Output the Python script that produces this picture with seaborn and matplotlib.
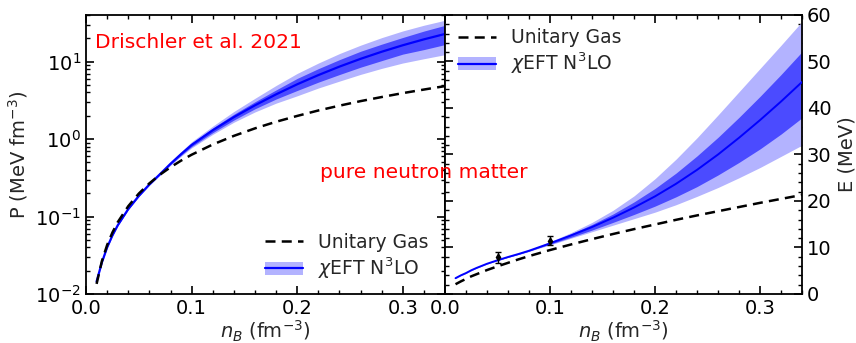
import numpy as np
import pandas as pd
import matplotlib
matplotlib.use("Agg")
import matplotlib.pyplot as plt
import seaborn as sns
from matplotlib.patches import Patch
from matplotlib.lines import Line2D
from matplotlib.ticker import MultipleLocator, LogLocator, NullFormatter

# ---------------- data ----------------
n_B = [0.010, 0.015, 0.020, 0.025, 0.030, 0.040, 0.050, 0.060, 0.070, 0.080,
       0.090, 0.100, 0.120, 0.140, 0.160, 0.180, 0.200, 0.220, 0.240, 0.260,
       0.280, 0.300, 0.320, 0.340]

# Pressure (MeV fm^-3)
P_unitary = [0.0135, 0.0265, 0.0429, 0.0622, 0.0844, 0.136, 0.198, 0.268, 0.347, 0.433,
             0.527, 0.628, 0.851, 1.10, 1.375, 1.673, 1.99, 2.34, 2.70, 3.09,
             3.49, 3.92, 4.36, 4.83]
P_chiEFT = [0.0145, 0.0255, 0.040, 0.057, 0.077, 0.125, 0.185, 0.26, 0.352, 0.480,
            0.640, 0.84, 1.30, 1.92, 2.73, 3.78, 5.10, 6.70, 8.62, 10.86,
            13.41, 16.27, 19.39, 22.77]
P_light_lo = [0.0143, 0.0251, 0.0393, 0.056, 0.0755, 0.122, 0.180, 0.252, 0.340, 0.458,
              0.600, 0.77, 1.15, 1.65, 2.24, 2.91, 3.62, 4.56, 5.60, 6.84,
              8.18, 9.6, 10.9, 12.3]
P_light_hi = [0.0147, 0.0259, 0.0407, 0.058, 0.0785, 0.128, 0.190, 0.268, 0.364, 0.505,
              0.685, 0.925, 1.47, 2.27, 3.36, 4.92, 7.04, 9.58, 12.7, 16.3,
              20.4, 24.9, 29.5, 34.2]
P_dark_lo = [0.0144, 0.0253, 0.0396, 0.0565, 0.076, 0.1235, 0.182, 0.256, 0.346, 0.468,
             0.617, 0.80, 1.21, 1.76, 2.46, 3.29, 4.24, 5.43, 6.81, 8.47,
             10.3, 12.5, 14.3, 16.6]
P_dark_hi = [0.0146, 0.0257, 0.0404, 0.0575, 0.078, 0.1265, 0.188, 0.264, 0.358, 0.492,
             0.663, 0.88, 1.39, 2.09, 3.03, 4.31, 6.07, 8.11, 10.6, 13.6,
             16.8, 20.5, 24.8, 29.4]

# Energy per particle (MeV)
E_unitary = [2.1, 2.7, 3.25, 3.8, 4.25, 5.15, 5.95, 6.7, 7.45, 8.15,
             8.8, 9.45, 10.65, 11.8, 12.9, 13.95, 14.95, 15.95, 16.9, 17.8,
             18.7, 19.6, 20.45, 21.3]
E_chiEFT = [3.4, 4.0, 4.5, 5.1, 5.6, 6.5, 7.25, 7.95, 8.6, 9.3,
            10.1, 10.9, 12.6, 14.4, 16.4, 18.6, 21.0, 23.7, 26.7, 30.0,
            33.6, 37.4, 41.4, 45.6]
E_light_lo = [3.35, 3.95, 4.45, 5.05, 5.55, 6.45, 7.18, 7.86, 8.48, 9.14,
              9.88, 10.55, 12.0, 13.4, 14.8, 16.2, 17.6, 19.2, 21.0, 22.9,
              25.0, 27.2, 29.6, 32.0]
E_light_hi = [3.45, 4.05, 4.55, 5.15, 5.65, 6.55, 7.32, 8.04, 8.72, 9.46,
              10.32, 11.25, 13.2, 15.4, 18.0, 21.1, 24.8, 29.0, 33.6, 38.5,
              43.5, 48.5, 53.5, 58.6]
E_dark_lo = [3.38, 3.98, 4.48, 5.08, 5.58, 6.48, 7.22, 7.9, 8.54, 9.22,
             9.98, 10.7, 12.2, 13.75, 15.4, 17.1, 18.9, 20.9, 23.1, 25.6,
             28.3, 31.2, 34.4, 37.9]
E_dark_hi = [3.42, 4.02, 4.52, 5.12, 5.62, 6.52, 7.28, 8.0, 8.66, 9.38,
             10.22, 11.1, 12.95, 14.95, 17.2, 19.8, 22.7, 26.0, 29.7, 33.7,
             38.0, 42.5, 47.2, 52.1]

# data points with error bars
pts_n = [0.05, 0.10]
pts_E = [7.85, 11.5]
pts_err = [1.25, 1.0]

# ---------------- style ----------------
sns.set_theme(style="ticks")
plt.rcParams["font.family"] = ["DejaVu Sans"]
plt.rcParams["mathtext.fontset"] = "dejavusans"
plt.rcParams["axes.linewidth"] = 1.3
plt.rcParams["axes.edgecolor"] = "black"
plt.rcParams["xtick.color"] = "black"
plt.rcParams["ytick.color"] = "black"

FS = 14
FS_TXT = 14.6
FS_LEG = 13.5
blue = "#0000ff"
c_light = "#b3b3ff"
c_dark = "#4b4bff"

df = pd.DataFrame({"n": n_B, "P_u": P_unitary, "P_c": P_chiEFT,
                   "E_u": E_unitary, "E_c": E_chiEFT})

fig = plt.figure(figsize=(8.56, 3.43), dpi=100)
ax1 = fig.add_axes([0.1005, 0.1429, 0.4194, 0.8134])
ax2 = fig.add_axes([0.5199, 0.1429, 0.4171, 0.8134])

# ---------------- left: pressure ----------------
ax1.fill_between(df["n"], P_light_lo, P_light_hi, color=c_light, lw=0, zorder=1)
ax1.fill_between(df["n"], P_dark_lo, P_dark_hi, color=c_dark, lw=0, zorder=2)
sns.lineplot(data=df, x="n", y="P_c", ax=ax1, color=blue, lw=1.6, zorder=3,
             estimator=None, sort=False)
sns.lineplot(data=df, x="n", y="P_u", ax=ax1, color="black", lw=1.8, zorder=4,
             estimator=None, sort=False, linestyle=(0, (4, 2.5)))
ax1.set_yscale("log")
ax1.set_xlim(0, 0.34)
ax1.set_ylim(0.01, 40)
ax1.set_xlabel(r"$n_B$ (fm$^{-3}$)", fontsize=FS, labelpad=1.0)
ax1.set_ylabel(r"P (MeV fm$^{-3}$)", fontsize=FS)
ax1.xaxis.set_major_locator(MultipleLocator(0.1))
ax1.xaxis.set_minor_locator(MultipleLocator(0.02))
ax1.yaxis.set_major_locator(LogLocator(base=10, numticks=10))
ax1.yaxis.set_minor_locator(LogLocator(base=10, subs=np.arange(2, 10), numticks=20))
ax1.yaxis.set_minor_formatter(NullFormatter())
ax1.tick_params(which="both", direction="in", top=True, right=True,
                labelsize=FS, colors="black")
ax1.tick_params(which="major", length=6, width=1.2)
ax1.tick_params(which="minor", length=3, width=1.0)
ax1.text(0.025, 0.9, "Drischler et al. 2021", color="red", fontsize=FS_TXT,
         transform=ax1.transAxes, va="center", ha="left")

h_u = Line2D([], [], color="black", lw=1.8, linestyle=(0, (4, 2.5)))
h_c = (Patch(facecolor=c_light, edgecolor="none"), Line2D([], [], color=blue, lw=1.6))
ax1.legend([h_u, h_c], ["Unitary Gas", r"$\chi$EFT N$^3$LO"], loc="lower right",
           frameon=False, fontsize=FS_LEG, bbox_to_anchor=(0.99, 0.0),
           handlelength=2.0, labelspacing=0.2, borderaxespad=0.3)

# ---------------- right: energy ----------------
ax2.fill_between(df["n"], E_light_lo, E_light_hi, color=c_light, lw=0, zorder=1)
ax2.fill_between(df["n"], E_dark_lo, E_dark_hi, color=c_dark, lw=0, zorder=2)
sns.lineplot(data=df, x="n", y="E_c", ax=ax2, color=blue, lw=1.4, zorder=3,
             estimator=None, sort=False)
sns.lineplot(data=df, x="n", y="E_u", ax=ax2, color="black", lw=1.8, zorder=4,
             estimator=None, sort=False, linestyle=(0, (4, 2.5)))
ax2.errorbar(pts_n, pts_E, yerr=pts_err, fmt="d", color="black", ms=3.5,
             capsize=2.5, elinewidth=1.0, capthick=1.0, zorder=5)
ax2.set_xlim(0, 0.34)
ax2.set_ylim(0, 60)
ax2.set_xlabel(r"$n_B$ (fm$^{-3}$)", fontsize=FS, labelpad=1.0)
ax2.set_ylabel("E (MeV)", fontsize=FS)
ax2.yaxis.set_label_position("right")
ax2.xaxis.set_major_locator(MultipleLocator(0.1))
ax2.xaxis.set_minor_locator(MultipleLocator(0.02))
ax2.yaxis.set_major_locator(MultipleLocator(10))
ax2.yaxis.set_minor_locator(MultipleLocator(2))
ax2.tick_params(which="both", direction="in", top=True, right=True, left=True,
                labelleft=False, labelright=True, labelsize=FS, colors="black")
ax2.tick_params(which="major", length=6, width=1.2)
ax2.tick_params(which="minor", length=3, width=1.0)
ax2.legend([h_u, h_c], ["Unitary Gas", r"$\chi$EFT N$^3$LO"], loc="upper left",
           frameon=False, fontsize=FS_LEG, handlelength=2.0, labelspacing=0.2,
           borderaxespad=0.3)

fig.text(0.495, 0.498, "pure neutron matter", color="red", fontsize=FS_TXT,
         ha="center", va="center")

fig.savefig("out.png", dpi=100)
